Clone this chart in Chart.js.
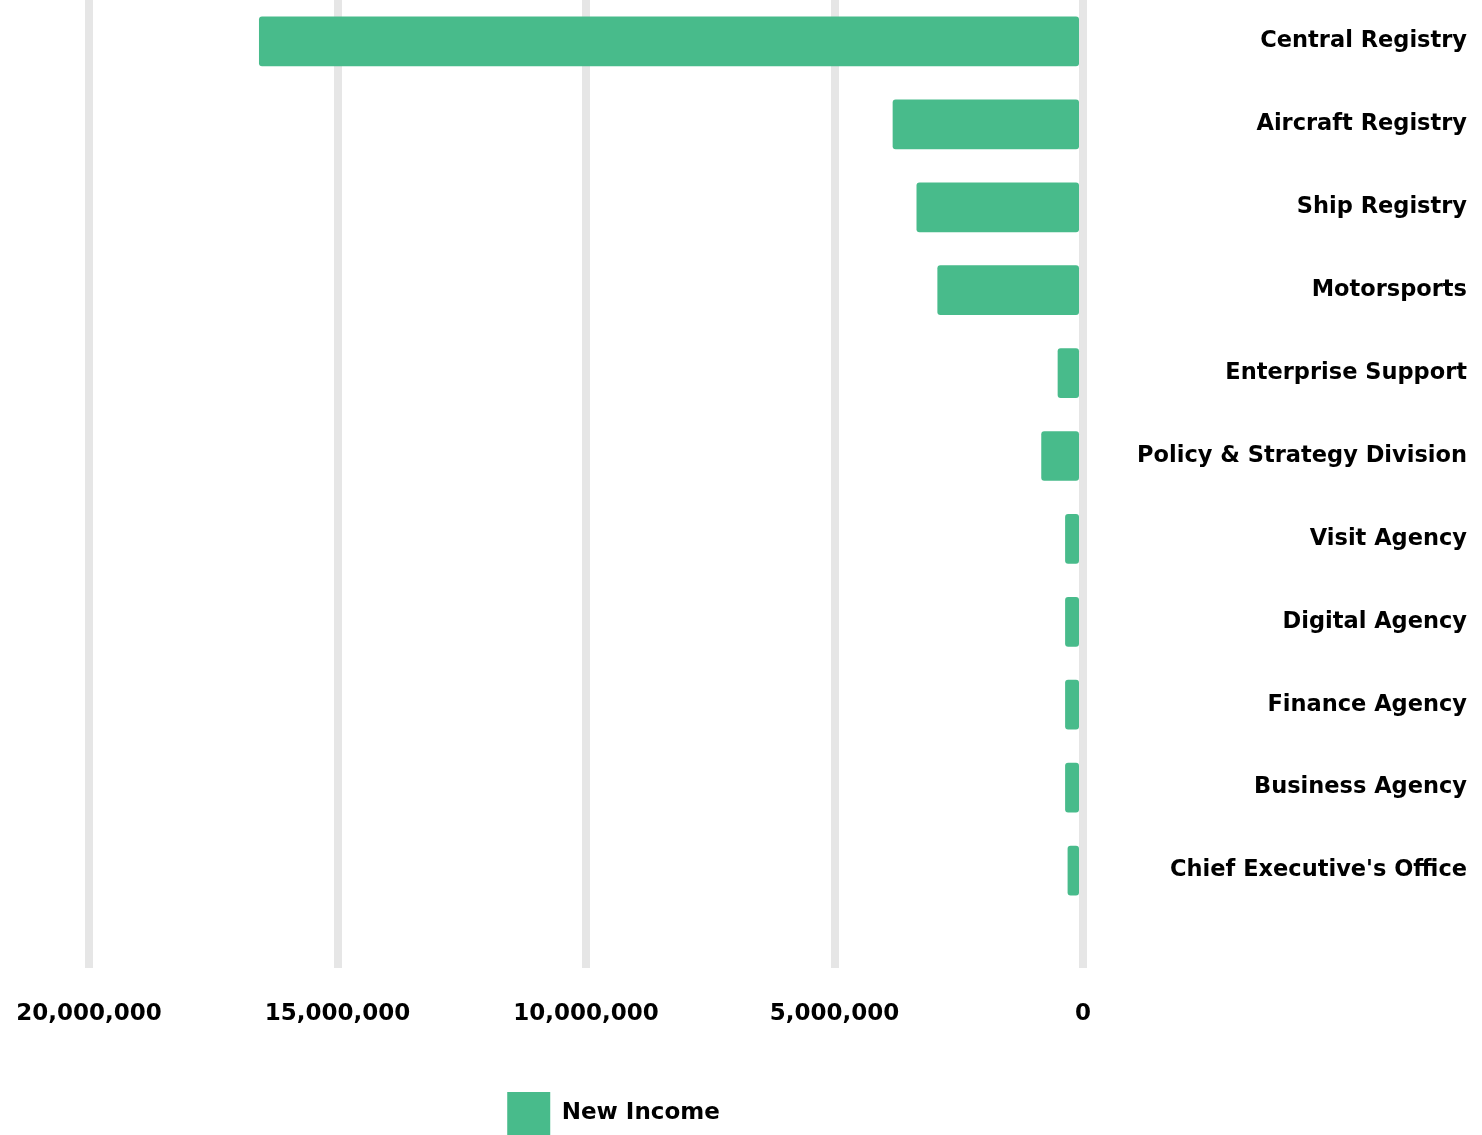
<!DOCTYPE html>
<html>
<head>
<meta charset="utf-8">
<script src="https://cdn.jsdelivr.net/npm/chart.js@4/dist/chart.umd.min.js"></script>
<style>
  html, body { margin: 0; padding: 0; background: #ffffff; }
  #wrap { width: 1482px; height: 1135px; position: relative; }
</style>
</head>
<body>
<div id="wrap"><canvas id="c" width="1482" height="1135"></canvas></div>
<script>
const categories = [
  "Central Registry",
  "Aircraft Registry",
  "Ship Registry",
  "Motorsports",
  "Enterprise Support",
  "Policy & Strategy Division",
  "Visit Agency",
  "Digital Agency",
  "Finance Agency",
  "Business Agency",
  "Chief Executive's Office"
];
const newIncome = [16580000, 3830000, 3350000, 2930000, 510000, 840000, 360000, 360000, 360000, 360000, 310000];
const seriesName = "New Income";
const xTicks = [0, 5000000, 10000000, 15000000, 20000000];

const FONT = "'DejaVu Sans', Verdana, sans-serif";
const GREEN = "rgb(72,187,139)";

const shiftLegend = {
  id: 'shiftLegend',
  afterLayout(chart) {
    if (chart.legend) { chart.legend.left += 55; chart.legend.top += 10; }
  }
};

new Chart(document.getElementById('c'), {
  type: 'bar',
  data: {
    labels: categories,
    datasets: [{
      label: seriesName,
      data: newIncome,
      backgroundColor: GREEN,
      borderColor: GREEN,
      borderWidth: 0,
      borderRadius: 3,
      borderSkipped: false,
      categoryPercentage: 1.0,
      barPercentage: 0.6
    }]
  },
  options: {
    indexAxis: 'y',
    responsive: false,
    animation: false,
    layout: { padding: { top: -7, right: 15, left: 89, bottom: 0 } },
    scales: {
      x: {
        reverse: true,
        min: xTicks[0],
        max: xTicks[xTicks.length - 1],
        afterBuildTicks(scale) { scale.ticks = xTicks.map(v => ({ value: v })); },
        afterFit(scale) { scale.height = 170; },
        border: { display: false },
        grid: {
          color: '#e6e6e6',
          lineWidth: 8,
          drawTicks: true,
          tickLength: 56
        },
        ticks: {
          padding: 32,
          color: '#000000',
          font: { family: FONT, size: 23, weight: 'bold' },
          maxRotation: 0,
          callback: (v) => Number(v).toLocaleString('en-US')
        }
      },
      y: {
        position: 'right',
        afterFit(scale) { scale.width = 384; scale.paddingTop = 0; scale.paddingBottom = 0; },
        border: { display: false },
        grid: { display: false },
        ticks: {
          crossAlign: 'far',
          padding: 0,
          color: '#000000',
          font: { family: FONT, size: 22.5, weight: 'bold' }
        }
      }
    },
    plugins: {
      legend: {
        position: 'bottom',
        fullSize: false,
        align: 'center',
        labels: {
          boxWidth: 43,
          boxHeight: 43,
          padding: 0,
          color: '#000000',
          font: { family: FONT, size: 23, weight: 'bold' }
        }
      },
      tooltip: { enabled: false }
    }
  },
  plugins: [shiftLegend]
});
</script>
</body>
</html>
